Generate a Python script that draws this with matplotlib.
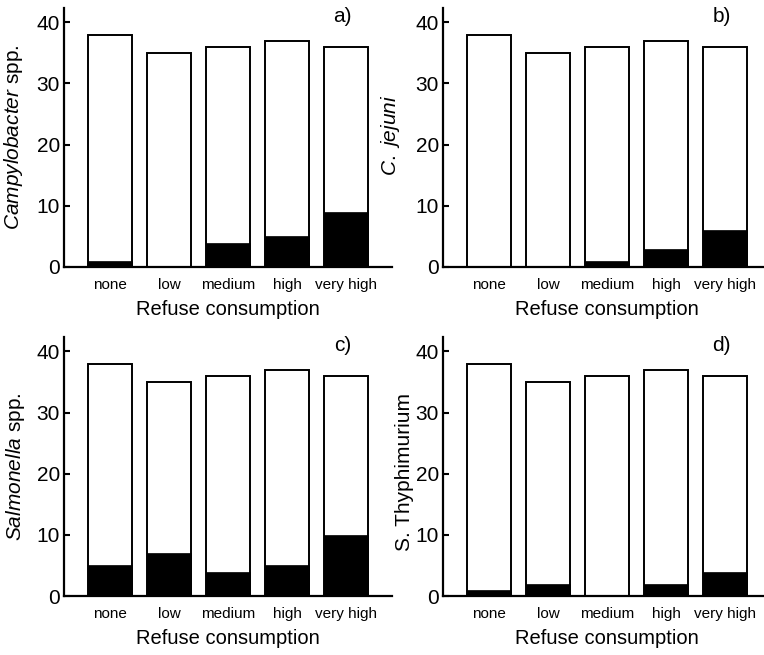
import numpy as np
import matplotlib
matplotlib.use('Agg')
import matplotlib.pyplot as plt

plt.rcParams['font.family'] = ['Liberation Sans', 'DejaVu Sans']
plt.rcParams['mathtext.fontset'] = 'custom'
plt.rcParams['mathtext.rm'] = 'Liberation Sans'
plt.rcParams['mathtext.it'] = 'Liberation Sans:italic'

# ---- data ----
categories = ['none', 'low', 'medium', 'high', 'very high']
totals = [38, 35, 36, 37, 36]
campylobacter = [1, 0, 4, 5, 9]
c_jejuni = [0, 0, 1, 3, 6]
salmonella = [5, 7, 4, 5, 10]
s_typhimurium = [1, 2, 0, 2, 4]

panels = [
    (campylobacter, r'$\mathit{Campylobacter}$ spp.', 'a)'),
    (c_jejuni, r'$\mathit{C.\ jejuni}$', 'b)'),
    (salmonella, r'$\mathit{Salmonella}$ spp.', 'c)'),
    (s_typhimurium, 'S. Thyphimurium', 'd)'),
]

# axes rectangles [left, bottom, width, height] in figure fraction
rects = [
    [0.084, 0.5924, 0.429, 0.395],
    [0.580, 0.5924, 0.429, 0.395],
    [0.084, 0.0900, 0.429, 0.395],
    [0.580, 0.0900, 0.429, 0.395],
]
# y-label anchor (right edge of the rotated text, vertical centre)
ylab_pos = [(-0.119, 0.50), (-0.125, 0.51), (-0.113, 0.50), (-0.09, 0.48)]

fig = plt.figure(figsize=(7.64, 6.55), dpi=100)
x = np.arange(len(categories))

for (pos, ylp, (vals, ylab, tag)) in zip(rects, ylab_pos, panels):
    ax = fig.add_axes(pos)
    ax.bar(x, totals, width=0.75, color='white', edgecolor='black', lw=1.4, zorder=2)
    ax.bar(x, vals, width=0.75, color='black', edgecolor='black', lw=0.5, zorder=3)

    ax.set_xlim(-0.78, 4.78)
    ax.set_ylim(0, 42.3)
    ax.set_yticks([0, 10, 20, 30, 40])
    ax.set_xticks(x)
    ax.set_xticklabels(categories, fontsize=11)
    ax.tick_params(axis='x', length=0, pad=8)
    ax.tick_params(axis='y', direction='in', length=4, width=1.5, labelsize=15, pad=3)

    for s in ['top', 'right']:
        ax.spines[s].set_visible(False)
    for s in ['left', 'bottom']:
        ax.spines[s].set_linewidth(1.6)

    ax.set_xlabel('Refuse consumption', fontsize=14.5, labelpad=6)
    ax.set_ylabel(ylab, fontsize=15)
    ax.yaxis.set_label_coords(*ylp)
    ax.text(0.85, 0.97, tag, transform=ax.transAxes, fontsize=15,
            ha='center', va='center')

fig.savefig('out.png', dpi=100)
